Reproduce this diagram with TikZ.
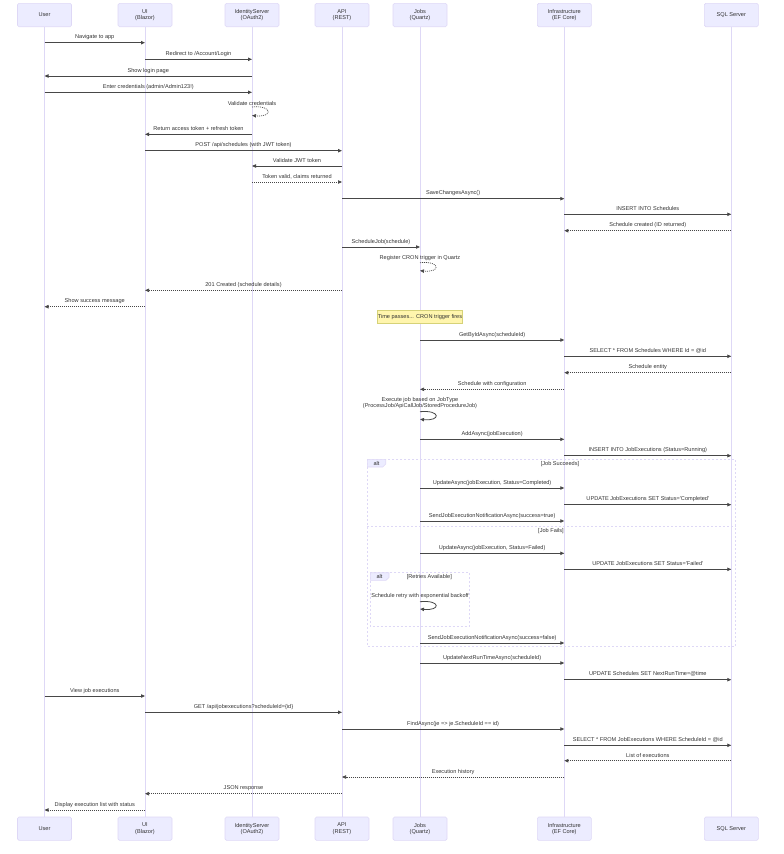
\documentclass[tikz,border=0pt]{standalone}
\usepackage{fontspec}
\setmainfont{Liberation Sans}
\usepackage{xcolor}
\usepackage{tikz}
\usetikzlibrary{arrows.meta}

\definecolor{actorfill}{RGB}{236,236,255}
\definecolor{actorline}{RGB}{222,216,246}
\definecolor{msgcol}{RGB}{51,51,51}
\definecolor{notefill}{RGB}{255,245,173}
\definecolor{noteline}{RGB}{214,210,120}

\begin{document}
\begin{tikzpicture}[x=1pt,y=-1pt,
    every node/.style={font=\fontsize{5.6}{6.2}\selectfont, text=msgcol, inner sep=0pt},
    actor/.style={draw=actorline, fill=actorfill, rounded corners=1.5pt, line width=0.6pt,
                  minimum width=54pt, minimum height=23.4pt, align=center},
    lifeline/.style={draw=actorline, line width=0.9pt},
    msg/.style={draw=msgcol!90, line width=0.8pt, -{Triangle[length=4pt,width=3.4pt]}},
    reply/.style={msg, line width=0.7pt, dash pattern=on 1pt off 1pt},
    lbl/.style={yshift=5.4pt},
    frame/.style={draw=actorline, line width=0.6pt, dash pattern=on 2pt off 2pt},
    tab/.style={fill=actorfill, draw=actorline, line width=0.6pt},
    note/.style={draw=noteline, fill=notefill, line width=0.6pt,
                 minimum width=85.4pt, minimum height=13.7pt}]
    \useasboundingbox (0,0) rectangle (784,854);

    % participants, top and bottom
    \node[actor] (user) at (44.5,15) {User};
    \node[actor] (ui) at (145,15) {UI\\(Blazor)};
    \node[actor] (ids) at (252,15) {IdentityServer\\(OAuth2)};
    \node[actor] (api) at (342,15) {API\\(REST)};
    \node[actor] (jobs) at (420,15) {Jobs\\(Quartz)};
    \node[actor] (infra) at (564.3,15) {Infrastructure\\(EF Core)};
    \node[actor] (sql) at (731.3,15) {SQL Server};
    \node[actor] (userb) at (44.5,828.7) {User};
    \node[actor] (uib) at (145,828.7) {UI\\(Blazor)};
    \node[actor] (idsb) at (252,828.7) {IdentityServer\\(OAuth2)};
    \node[actor] (apib) at (342,828.7) {API\\(REST)};
    \node[actor] (jobsb) at (420,828.7) {Jobs\\(Quartz)};
    \node[actor] (infrab) at (564.3,828.7) {Infrastructure\\(EF Core)};
    \node[actor] (sqlb) at (731.3,828.7) {SQL Server};

    % lifelines
    \draw[lifeline] (user.south) -- (userb.north);
    \draw[lifeline] (ui.south) -- (uib.north);
    \draw[lifeline] (ids.south) -- (idsb.north);
    \draw[lifeline] (api.south) -- (apib.north);
    \draw[lifeline] (jobs.south) -- (jobsb.north);
    \draw[lifeline] (infra.south) -- (infrab.north);
    \draw[lifeline] (sql.south) -- (sqlb.north);

    % login
    \draw[msg] (user |- 0,42.7) -- node[lbl] {Navigate to app} (ui |- 0,42.7);
    \draw[msg] (ui |- 0,59.3) -- node[lbl] {Redirect to /Account/Login} (ids |- 0,59.3);
    \draw[msg] (ids |- 0,76) -- node[lbl] {Show login page} (user |- 0,76);
    \draw[msg] (user |- 0,92.3) -- node[lbl] {Enter credentials (admin/Admin123!)} (ids |- 0,92.3);
    \node (valcred) at (ids |- 0,103) {Validate credentials};
    \draw[reply] (ids |- 0,107) .. controls +(21,-2) and +(21,2) .. (ids |- 0,115.5);
    \draw[msg] (ids |- 0,134.3) -- node[lbl] {Return access token + refresh token} (ui |- 0,134.3);

    % create schedule
    \draw[msg] (ui |- 0,150.7) -- node[lbl] {POST /api/schedules (with JWT token)} (api |- 0,150.7);
    \draw[msg] (api |- 0,166) -- node[lbl] {Validate JWT token} (ids |- 0,166);
    \draw[reply] (ids |- 0,182) -- node[lbl] {Token valid, claims returned} (api |- 0,182);
    \draw[msg] (api |- 0,198.7) -- node[lbl] {SaveChangesAsync()} (infra |- 0,198.7);
    \draw[msg] (infra |- 0,214.3) -- node[lbl] {INSERT INTO Schedules} (sql |- 0,214.3);
    \draw[reply] (sql |- 0,230.7) -- node[lbl] {Schedule created (ID returned)} (infra |- 0,230.7);
    \draw[msg] (api |- 0,247) -- node[lbl] {ScheduleJob(schedule)} (jobs |- 0,247);
    \node (regcron) at (jobs |- 0,258) {Register CRON trigger in Quartz};
    \draw[reply] (jobs |- 0,262.7) .. controls +(21,-2) and +(21,2) .. (jobs |- 0,270.7);
    \draw[reply] (api |- 0,290.3) -- node[lbl] {201 Created (schedule details)} (ui |- 0,290.3);
    \draw[reply] (ui |- 0,306.7) -- node[lbl] {Show success message} (user |- 0,306.7);

    % trigger fires
    \node[note] (cron) at (420,316.9) {Time passes... CRON trigger fires};
    \draw[msg] (jobs |- 0,340) -- node[lbl] {GetByIdAsync(scheduleId)} (infra |- 0,340);
    \draw[msg] (infra |- 0,356.3) -- node[lbl] {SELECT * FROM Schedules WHERE Id = @id} (sql |- 0,356.3);
    \draw[reply] (sql |- 0,372.7) -- node[lbl] {Schedule entity} (infra |- 0,372.7);
    \draw[reply] (infra |- 0,389.3) -- node[lbl] {Schedule with configuration} (jobs |- 0,389.3);
    \node[align=center] (execjob) at (jobs |- 0,403) {Execute job based on JobType\\(ProcessJob/ApiCallJob/StoredProcedureJob)};
    \draw[msg] (jobs |- 0,411.7) .. controls +(21,-2) and +(21,2) .. (jobs |- 0,419.3);
    \draw[msg] (jobs |- 0,439.3) -- node[lbl] {AddAsync(jobExecution)} (infra |- 0,439.3);
    \draw[msg] (infra |- 0,455.7) -- node[lbl] {INSERT INTO JobExecutions (Status=Running)} (sql |- 0,455.7);

    % alt: success / failure
    \draw[frame] (367.3,459.3) rectangle (735.7,646.3);
    \draw[tab] (367.3,459.3) -- (385.7,459.3) -- (385.7,464) -- (382.7,467) -- (367.3,467) -- cycle;
    \node (alt1) at (376.5,463.2) {alt};
    \node (succ) at (560,464.3) {[Job Succeeds]};
    \draw[msg] (jobs |- 0,488) -- node[lbl] {UpdateAsync(jobExecution, Status=Completed)} (infra |- 0,488);
    \draw[msg] (infra |- 0,504.7) -- node[lbl] {UPDATE JobExecutions SET Status=\textquotesingle Completed\textquotesingle} (sql |- 0,504.7);
    \draw[msg] (jobs |- 0,521) -- node[lbl] {SendJobExecutionNotificationAsync(success=true)} (infra |- 0,521);
    \draw[frame] (367.3,526.3) -- (735.7,526.3);
    \node (fails) at (551,531) {[Job Fails]};
    \draw[msg] (jobs |- 0,553.3) -- node[lbl] {UpdateAsync(jobExecution, Status=Failed)} (infra |- 0,553.3);
    \draw[msg] (infra |- 0,569.3) -- node[lbl] {UPDATE JobExecutions SET Status=\textquotesingle Failed\textquotesingle} (sql |- 0,569.3);

    % alt: retries
    \draw[frame] (370.3,572.7) rectangle (469.7,626.3);
    \draw[tab] (370.3,572.7) -- (389,572.7) -- (389,577.5) -- (386,580.3) -- (370.3,580.3) -- cycle;
    \node (alt2) at (379.5,576.6) {alt};
    \node (retries) at (429.3,577) {[Retries Available]};
    \node (retry) at (jobs |- 0,596) {Schedule retry with exponential backoff};
    \draw[msg] (jobs |- 0,601.7) .. controls +(21,-2) and +(21,2) .. (jobs |- 0,609);
    \draw[msg] (jobs |- 0,643) -- node[lbl] {SendJobExecutionNotificationAsync(success=false)} (infra |- 0,643);

    \draw[msg] (jobs |- 0,663) -- node[lbl] {UpdateNextRunTimeAsync(scheduleId)} (infra |- 0,663);
    \draw[msg] (infra |- 0,679.7) -- node[lbl] {UPDATE Schedules SET NextRunTime=@time} (sql |- 0,679.7);

    % view executions
    \draw[msg] (user |- 0,696) -- node[lbl] {View job executions} (ui |- 0,696);
    \draw[msg] (ui |- 0,712.3) -- node[lbl] {GET /api/jobexecutions?scheduleId=\{id\}} (api |- 0,712.3);
    \draw[msg] (api |- 0,729) -- node[lbl] {FindAsync(je => je.ScheduleId == id)} (infra |- 0,729);
    \draw[msg] (infra |- 0,745.3) -- node[lbl] {SELECT * FROM JobExecutions WHERE ScheduleId = @id} (sql |- 0,745.3);
    \draw[reply] (sql |- 0,760.7) -- node[lbl] {List of executions} (infra |- 0,760.7);
    \draw[reply] (infra |- 0,777) -- node[lbl] {Execution history} (api |- 0,777);
    \draw[reply] (api |- 0,793.7) -- node[lbl] {JSON response} (ui |- 0,793.7);
    \draw[reply] (ui |- 0,810) -- node[lbl] {Display execution list with status} (user |- 0,810);
\end{tikzpicture}
\end{document}
